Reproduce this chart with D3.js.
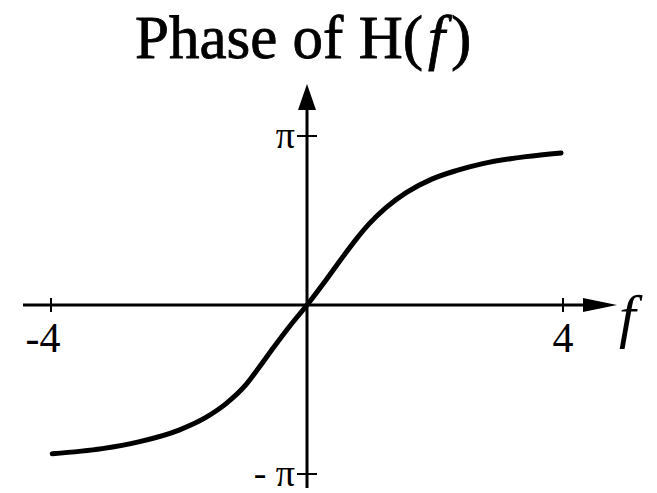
<!DOCTYPE html>
<html>
<head>
<meta charset="utf-8">
<script src="https://cdn.jsdelivr.net/npm/d3@7"></script>
<style>
  html, body { margin: 0; padding: 0; background: #fff; }
  svg { display: block; }
  text { font-family: "Liberation Serif", "DejaVu Serif", serif; fill: #000; }
</style>
</head>
<body>
<svg id="chart" width="657" height="493"></svg>
<script>
// Frequency samples (f) and phase of H(f) in units of pi
const freq  = [-3.98, -3.2, -2.63, -2.0, -1.58, -1.27, -0.95, -0.75, -0.52, -0.28, 0,
               0.3, 0.55, 0.77, 0.97, 1.23, 1.55, 1.95, 2.33, 2.73, 3.42, 3.97];
const phase = [-0.88, -0.85, -0.81, -0.74, -0.665, -0.585, -0.47, -0.37, -0.25, -0.13, 0,
               0.15, 0.28, 0.39, 0.48, 0.575, 0.665, 0.745, 0.795, 0.835, 0.878, 0.90];

const xTicks = [-4, 4];
const xTickLabels = ["-4", "4"];
const yTicks = [-1, 1];
const yTickLabels = ["- π", "π"];

const svg = d3.select("#chart");

const x = d3.scaleLinear().domain([-4, 4]).range([51, 563]);
const y = d3.scaleLinear().domain([-1, 1]).range([474, 136]);

const x0 = x(0), y0 = y(0);

// Title
const title = svg.append("text")
  .attr("x", 135).attr("y", 58)
  .attr("font-size", 61)
  .attr("stroke", "#000").attr("stroke-width", 0.8);
title.append("tspan").text("Phase of H(");
title.append("tspan").attr("dx", 5).attr("font-style", "italic").text("f");
title.append("tspan").attr("dx", 6).text(")");

// Horizontal axis with arrow head
svg.append("line")
  .attr("x1", 23).attr("x2", 590)
  .attr("y1", y0).attr("y2", y0)
  .attr("stroke", "#000").attr("stroke-width", 3);
svg.append("path")
  .attr("d", `M${583},${y0 - 7} L${617},${y0} L${583},${y0 + 7} Z`)
  .attr("fill", "#000");

// Vertical axis with arrow head
svg.append("line")
  .attr("x1", x0).attr("x2", x0)
  .attr("y1", 488).attr("y2", 100)
  .attr("stroke", "#000").attr("stroke-width", 3);
svg.append("path")
  .attr("d", `M${x0 - 9},${110} L${x0},${84} L${x0 + 9},${110} Z`)
  .attr("fill", "#000");

// Tick marks and labels on the f axis
svg.selectAll(".xtick")
  .data(xTicks)
  .join("line")
  .attr("class", "xtick")
  .attr("x1", d => x(d)).attr("x2", d => x(d))
  .attr("y1", y0 - 7).attr("y2", y0 + 7)
  .attr("stroke", "#000").attr("stroke-width", 2);

svg.selectAll(".xlabel")
  .data(xTicks)
  .join("text")
  .attr("class", "xlabel")
  .attr("x", (d, i) => x(d) + (i === 0 ? -8 : 0))
  .attr("y", 352)
  .attr("text-anchor", "middle")
  .attr("font-size", 42)
  .text((d, i) => xTickLabels[i]);

// Tick marks and labels on the phase axis
svg.selectAll(".ytick")
  .data(yTicks)
  .join("line")
  .attr("class", "ytick")
  .attr("x1", x0 - 10).attr("x2", x0 + 10)
  .attr("y1", d => y(d)).attr("y2", d => y(d))
  .attr("stroke", "#000").attr("stroke-width", 2);

svg.selectAll(".ylabel")
  .data(yTicks)
  .join("text")
  .attr("class", "ylabel")
  .attr("x", x0 - 12)
  .attr("y", d => y(d) + 12)
  .attr("text-anchor", "end")
  .attr("font-size", 38)
  .text((d, i) => yTickLabels[i]);

// Axis name
svg.append("text")
  .attr("x", 619).attr("y", 336)
  .attr("font-size", 60)
  .attr("font-style", "italic")
  .text("f");

// Phase curve
const pts = freq.map((f, i) => [f, phase[i]]);
const line = d3.line()
  .x(d => x(d[0]))
  .y(d => y(d[1]))
  .curve(d3.curveMonotoneX);

svg.append("path")
  .datum(pts)
  .attr("d", line)
  .attr("fill", "none")
  .attr("stroke", "#000")
  .attr("stroke-width", 5)
  .attr("stroke-linecap", "round");
</script>
</body>
</html>
